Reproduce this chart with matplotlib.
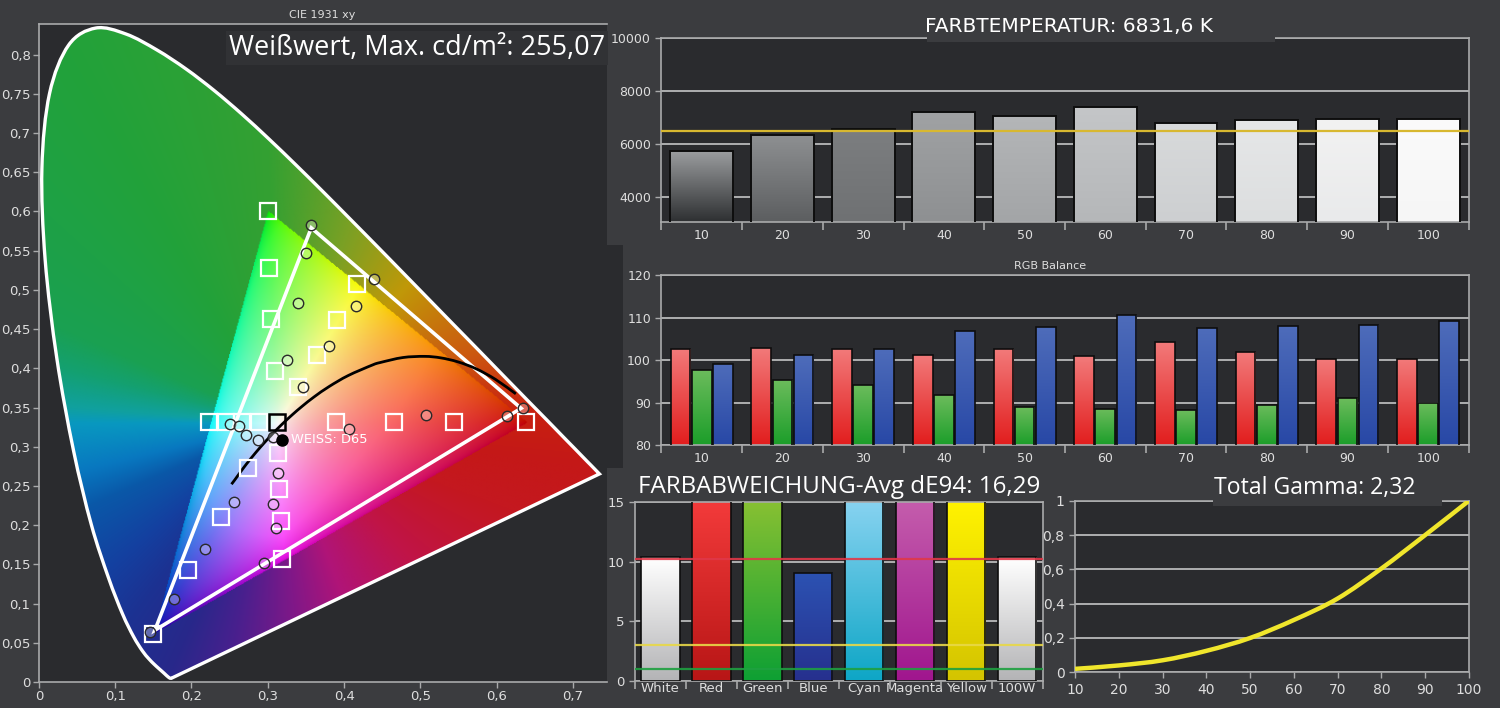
import numpy as np
import matplotlib
matplotlib.use('Agg')
import matplotlib.pyplot as plt
from matplotlib.path import Path
from matplotlib.patches import Polygon, Rectangle, PathPatch
from matplotlib.colors import to_rgb, rgb_to_hsv, hsv_to_rgb
from matplotlib import font_manager

# ---- CIE 1931 xy ----
locus_x = [0.1741, 0.1740, 0.1738, 0.1736, 0.1733, 0.1730, 0.1726, 0.1721, 0.1714, 0.1703,
           0.1689, 0.1669, 0.1644, 0.1611, 0.1566, 0.1510, 0.1440, 0.1355, 0.1241, 0.1096,
           0.0913, 0.0687, 0.0454, 0.0235, 0.0082, 0.0039, 0.0139, 0.0389, 0.0743, 0.1142,
           0.1547, 0.1929, 0.2296, 0.2658, 0.3016, 0.3373, 0.3731, 0.4087, 0.4441, 0.4788,
           0.5125, 0.5448, 0.5752, 0.6029, 0.6270, 0.6482, 0.6658, 0.6801, 0.6915, 0.7006,
           0.7079, 0.7140, 0.7190, 0.7230, 0.7260, 0.7300, 0.7320, 0.7334, 0.7347]
locus_y = [0.0050, 0.0050, 0.0049, 0.0049, 0.0048, 0.0048, 0.0048, 0.0048, 0.0051, 0.0058,
           0.0069, 0.0086, 0.0109, 0.0138, 0.0177, 0.0227, 0.0297, 0.0399, 0.0578, 0.0868,
           0.1327, 0.2007, 0.2950, 0.4127, 0.5384, 0.6548, 0.7502, 0.8120, 0.8338, 0.8262,
           0.8059, 0.7816, 0.7543, 0.7243, 0.6923, 0.6589, 0.6245, 0.5896, 0.5547, 0.5202,
           0.4866, 0.4544, 0.4242, 0.3965, 0.3725, 0.3514, 0.3340, 0.3197, 0.3083, 0.2993,
           0.2920, 0.2859, 0.2809, 0.2770, 0.2740, 0.2700, 0.2680, 0.2666, 0.2653]

ref_gamut_x = [0.64, 0.30, 0.15]
ref_gamut_y = [0.33, 0.60, 0.06]
meas_gamut_x = [0.632, 0.357, 0.152]
meas_gamut_y = [0.349, 0.579, 0.066]

planck_x = [0.6251, 0.5985, 0.5732, 0.5492, 0.5267, 0.5056, 0.4770, 0.4476, 0.4369, 0.4053,
            0.3805, 0.3608, 0.3451, 0.3325, 0.3221, 0.3135, 0.3064, 0.2952, 0.2869, 0.2807,
            0.2720, 0.2637, 0.2565, 0.2524]
planck_y = [0.3674, 0.3858, 0.3993, 0.4082, 0.4133, 0.4152, 0.4137, 0.4074, 0.4041, 0.3907,
            0.3768, 0.3636, 0.3516, 0.3411, 0.3318, 0.3237, 0.3166, 0.3048, 0.2956, 0.2884,
            0.2779, 0.2671, 0.2574, 0.2522]

target_x = [0.300, 0.301, 0.304, 0.417, 0.391, 0.309, 0.364, 0.339,
            0.223, 0.245, 0.266, 0.288, 0.390, 0.466, 0.544, 0.639,
            0.313, 0.274, 0.315, 0.239, 0.317, 0.196, 0.319, 0.150]
target_y = [0.601, 0.528, 0.463, 0.507, 0.462, 0.397, 0.417, 0.376,
            0.332, 0.332, 0.332, 0.332, 0.332, 0.332, 0.332, 0.332,
            0.292, 0.273, 0.246, 0.210, 0.205, 0.143, 0.157, 0.061]
white_target = (0.312, 0.332)

meas_x = [0.357, 0.350, 0.439, 0.339, 0.415, 0.380, 0.325, 0.346, 0.251, 0.262,
          0.272, 0.287, 0.307, 0.407, 0.508, 0.614, 0.635, 0.313, 0.256, 0.307,
          0.311, 0.218, 0.295, 0.177, 0.145]
meas_y = [0.583, 0.547, 0.514, 0.483, 0.480, 0.429, 0.410, 0.376, 0.329, 0.326,
          0.315, 0.309, 0.313, 0.322, 0.341, 0.339, 0.350, 0.267, 0.230, 0.227,
          0.196, 0.169, 0.152, 0.106, 0.064]
d65_point = (0.319, 0.309)

# ---- Farbtemperatur ----
levels = ['10', '20', '30', '40', '50', '60', '70', '80', '90', '100']
cct_values = [5725, 6338, 6575, 7214, 7064, 7402, 6800, 6891, 6951, 6951]
cct_target = 6500

# ---- RGB Balance ----
rgb_red = [102.6, 102.9, 102.6, 101.2, 102.6, 100.9, 104.3, 101.9, 100.3, 100.3]
rgb_green = [97.7, 95.3, 94.2, 91.7, 89.1, 88.5, 88.2, 89.5, 91.0, 89.9]
rgb_blue = [99.2, 101.1, 102.6, 106.9, 107.7, 110.6, 107.5, 108.0, 108.2, 109.2]

# ---- Farbabweichung ----
patches_names = ['White', 'Red', 'Green', 'Blue', 'Cyan', 'Magenta', 'Yellow', '100W']
de94_values = [10.4, 18.5, 24.0, 9.1, 19.5, 17.5, 21.0, 10.4]
de_limits = [10.2, 3.0, 1.0]

# ---- Gamma ----
gamma_x = [10, 20, 30, 40, 50, 60, 70, 80, 90, 100]
gamma_y = [0.02, 0.04, 0.07, 0.125, 0.2, 0.305, 0.43, 0.605, 0.8, 1.0]

W, H = 1500, 708
FIG_BG = '#3b3c3f'
AX_BG = '#2a2b2e'
SPINE = '#a9aaab'
GRID = '#c4c5c6'
TXT = '#dedede'

# Farbton-Stuetzstellen (Winkel um den Weisspunkt) fuer die Flaeche ausserhalb des Dreiecks
HUE_STOPS = [(-180, '#0898c0'), (-167, '#0878c0'), (-157, '#0a58a8'), (-140, '#1440a0'),
             (-128, '#1c3292'), (-114, '#28288a'), (-102, '#48208e'), (-85, '#801888'),
             (-69, '#b01478'), (-45, '#c01448'), (-20, '#c41820'), (-8, '#c41818'),
             (2, '#c82010'), (19, '#cc5810'), (46, '#c09808'), (69, '#7ca024'),
             (92, '#34a032'), (120, '#22a23a'), (157, '#1aa052'), (166, '#14a070'),
             (176, '#10a0a0'), (180, '#0898c0')]

fams = {f.name for f in font_manager.fontManager.ttflist}
SANS = 'Open Sans' if 'Open Sans' in fams else 'DejaVu Sans'
if 'Liberation Sans Narrow' in fams:
    NARROW, NARROW_FS = 'Liberation Sans Narrow', 17
else:
    NARROW, NARROW_FS = 'DejaVu Sans', 14.5


def px_axes(fig, left, top, right, bottom):
    return fig.add_axes([left / W, 1 - bottom / H, (right - left) / W, (bottom - top) / H])


def fig_rect(fig, left, top, right, bottom, color, z):
    fig.patches.append(Rectangle((left / W, 1 - bottom / H), (right - left) / W, (bottom - top) / H,
                                 transform=fig.transFigure, facecolor=color,
                                 edgecolor='none', zorder=z))


def smooth_path(xs, ys, closed=False):
    """Catmull-Rom Kurve als Bezier-Pfad (nur zum glatten Zeichnen)."""
    pts = np.column_stack([xs, ys])
    n = len(pts)
    verts, codes = [pts[0]], [Path.MOVETO]
    for i in range(n - 1):
        p0 = pts[i - 1] if i > 0 else pts[i]
        p1, p2 = pts[i], pts[i + 1]
        p3 = pts[i + 2] if i + 2 < n else pts[i + 1]
        verts += [p1 + (p2 - p0) / 6, p2 - (p3 - p1) / 6, p2]
        codes += [Path.CURVE4] * 3
    if closed:
        verts += [pts[0], pts[0]]
        codes += [Path.LINETO, Path.CLOSEPOLY]
    return Path(verts, codes)


def style(ax, fs=9):
    ax.set_facecolor(AX_BG)
    for s in ax.spines.values():
        s.set_color(SPINE)
        s.set_linewidth(1.2)
    ax.tick_params(colors=SPINE, labelcolor=TXT, labelsize=fs, length=4, width=1)
    ax.set_axisbelow(True)


def comma(v, nd=2):
    s = f"{v:.{nd}f}".rstrip('0').rstrip('.')
    return s.replace('.', ',')


def category_ticks(ax, n):
    ax.set_xlim(-0.5, n - 0.5)
    ax.set_xticks(np.arange(n))
    ax.set_xticks(np.arange(n + 1) - 0.5, minor=True)
    ax.tick_params(axis='x', which='major', length=0, pad=5)
    ax.tick_params(axis='x', which='minor', length=6, color=SPINE, width=1.2)


def gradient_bars(ax, bars, tops, bottoms, ylim):
    for bar, ct, cb in zip(bars, tops, bottoms):
        x0, w = bar.get_x(), bar.get_width()
        y0 = max(bar.get_y(), ylim[0])
        y1 = min(bar.get_y() + bar.get_height(), ylim[1])
        t = np.linspace(0, 1, 60)[:, None, None]
        c0, c1 = np.array(to_rgb(cb)), np.array(to_rgb(ct))
        img = c0 + (c1 - c0) * t
        im = ax.imshow(img, extent=[x0, x0 + w, y0, y1], origin='lower', aspect='auto',
                       interpolation='bilinear', zorder=2)
        im.set_clip_path(bar)


def chromaticity_image(gx, gy):
    GX, GY = np.meshgrid(gx, gy)
    Xc = GX / GY
    Zc = (1 - GX - GY) / GY
    lin = np.dstack([3.2406 * Xc - 1.5372 - 0.4986 * Zc,
                     -0.9689 * Xc + 1.8758 + 0.0415 * Zc,
                     0.0557 * Xc - 0.2040 + 1.0570 * Zc])
    lin = np.clip(lin, 0, None)
    lin = lin / lin.max(axis=2, keepdims=True)
    srgb = np.clip(np.where(lin <= 0.0031308, 12.92 * lin, 1.055 * lin ** (1 / 2.4) - 0.055), 0, 1)
    w = np.clip(0.5 * srgb[..., 0] + 0.8 * srgb[..., 1] + 0.2 * srgb[..., 2], 0, 1)
    hsv = rgb_to_hsv(srgb)
    hsv[..., 1] = hsv[..., 1] ** 0.8
    hsv[..., 2] = 0.5 + 0.48 * w
    inner = hsv_to_rgb(hsv)

    ang = np.degrees(np.arctan2(GY - 0.329, GX - 0.3127))
    sa = [a for a, _ in HUE_STOPS]
    sc = np.array([to_rgb(c) for _, c in HUE_STOPS])
    outer = np.dstack([np.interp(ang, sa, sc[:, k]) for k in range(3)])

    tri = Path(np.column_stack([ref_gamut_x, ref_gamut_y]))
    inside = tri.contains_points(np.column_stack([GX.ravel(), GY.ravel()])).reshape(GX.shape)
    return np.where(inside[..., None], inner, outer)


fig = plt.figure(figsize=(15, 7.08), dpi=100, facecolor=FIG_BG)
fig_rect(fig, 607, 245, 623, 468, AX_BG, -1)

# =============== CIE ===============
ax = px_axes(fig, 38.9, 24, 607, 682)
style(ax, 9.5)
ax.spines['right'].set_visible(False)

gx = np.linspace(0, 0.75, 600)
gy = np.linspace(0.002, 0.84, 672)
locus_patch = PathPatch(smooth_path(locus_x, locus_y, closed=True), facecolor='none',
                        edgecolor='white', lw=2.4, zorder=4)
ax.add_patch(locus_patch)
im = ax.imshow(chromaticity_image(gx, gy), extent=[0, 0.75, 0.002, 0.84], origin='lower',
               aspect='auto', interpolation='bilinear', zorder=1)
im.set_clip_path(locus_patch)
ax.set_xlim(0, 0.7446)
ax.set_ylim(0, 0.839)

ax.add_patch(Polygon(np.column_stack([meas_gamut_x, meas_gamut_y]), closed=True,
                     facecolor='none', edgecolor='white', lw=2.6, zorder=5))
ax.add_patch(PathPatch(smooth_path(planck_x, planck_y), facecolor='none', edgecolor='black',
                       lw=2, zorder=6))
ax.plot(target_x, target_y, ls='none', marker='s', ms=12, mfc='none', mec='white',
        mew=1.6, zorder=7)
ax.plot(*white_target, marker='s', ms=12, mfc='none', mec='black', mew=1.8, zorder=7)
ax.plot(meas_x, meas_y, ls='none', marker='o', ms=7.5, mfc=(1, 1, 1, 0.3), mec='#2a2a2a',
        mew=1, zorder=8)
ax.plot(*d65_point, marker='o', ms=8, color='black', zorder=9)
ax.text(d65_point[0] + 0.012, d65_point[1], 'WEISS: D65', color='white', fontsize=9.4,
        va='center', zorder=9)

ax.set_xticks(np.arange(0, 0.71, 0.1))
ax.set_xticklabels([comma(v, 1) for v in np.arange(0, 0.71, 0.1)])
yt = np.arange(0, 0.801, 0.05)
ax.set_yticks(yt)
ax.set_yticklabels([comma(v) for v in yt])
ax.tick_params(axis='both', pad=2)
ax.text(0.997, 0.9635, 'Weißwert, Max. cd/m²: 255,07', transform=ax.transAxes, ha='right',
        va='center', color='white', fontsize=19.5, family=SANS, zorder=10,
        bbox=dict(facecolor='#313235', edgecolor='none', pad=2))
fig.text(322 / W, 1 - 15 / H, 'CIE 1931 xy', ha='center', va='center', color=TXT, fontsize=8)

# =============== Farbtemperatur ===============
ax = px_axes(fig, 661.4, 37.7, 1468.5, 222.3)
style(ax)
x = np.arange(len(levels))
greys = ['#2e3032', '#5c5e60', '#6f7173', '#8e9092', '#a3a5a7', '#b5b7b9', '#cdcfd1',
         '#dcdedf', '#e9eaeb', '#f6f6f6']
tops = ['#9a9c9e', '#8e9092', '#7c7e80', '#a0a2a4', '#b4b6b8', '#c4c6c8', '#d8dadb',
        '#e6e7e8', '#f2f2f2', '#fbfbfb']
ylim = (3060, 10000)
bars = ax.bar(x, cct_values, width=0.78, facecolor='none', edgecolor='#0e0e0e', lw=1.4, zorder=3)
gradient_bars(ax, bars, tops, greys, ylim)
ax.axhline(cct_target, color='#d8b830', lw=1.6, zorder=4)
ax.set_ylim(*ylim)
ax.set_yticks([4000, 6000, 8000, 10000])
ax.yaxis.grid(True, color=GRID, lw=1.2)
category_ticks(ax, len(levels))
ax.set_xticklabels(levels)
fig_rect(fig, 927, 30, 1275, 42, FIG_BG, 2)
fig.text(1069 / W, 1 - 26 / H, 'FARBTEMPERATUR: 6831,6 K', ha='center', va='center',
         color='white', fontsize=NARROW_FS, family=NARROW, zorder=3)

# =============== RGB Balance ===============
ax = px_axes(fig, 661.4, 275, 1468.5, 445.3)
style(ax)
ylim = (80, 120)
bw = 0.245
for vals, off, ct, cb in [(rgb_red, -0.262, '#f27a7a', '#e21e1e'),
                          (rgb_green, 0.0, '#6cbc5c', '#1c9e2a'),
                          (rgb_blue, 0.262, '#4e6cba', '#2848a6')]:
    bars = ax.bar(x + off, vals, width=bw, facecolor='none', edgecolor='#0e0e0e', lw=1.2, zorder=3)
    gradient_bars(ax, bars, [ct] * len(vals), [cb] * len(vals), ylim)
ax.set_ylim(*ylim)
ax.set_yticks([80, 90, 100, 110, 120])
ax.yaxis.grid(True, color=GRID, lw=1.2)
category_ticks(ax, len(levels))
ax.set_xticklabels(levels)
fig.text(1050 / W, 1 - 266 / H, 'RGB Balance', ha='center', va='center', color=TXT, fontsize=8)

# =============== Farbabweichung ===============
ax = px_axes(fig, 635, 502.3, 1042.7, 681)
style(ax, 9.5)
ylim = (0, 15)
xp = np.arange(len(patches_names))
tops = ['#ffffff', '#f23a3a', '#86c032', '#2c52b2', '#86d2f0', '#c45cac', '#fff200', '#ffffff']
bots = ['#b4b4b6', '#b81616', '#0ea034', '#26308e', '#0ea6c6', '#a0168e', '#d4c400', '#b4b4b6']
bars = ax.bar(xp, de94_values, width=0.75, facecolor='none', edgecolor='#0e0e0e', lw=1.2, zorder=3)
gradient_bars(ax, bars, tops, bots, ylim)
for v, c in zip(de_limits, ['#e03848', '#e8d848', '#1ea040']):
    ax.axhline(v, color=c, lw=1.6, alpha=0.9, zorder=4)
ax.set_ylim(*ylim)
ax.set_yticks([0, 5, 10, 15])
ax.yaxis.grid(True, color=GRID, lw=1.2)
category_ticks(ax, len(patches_names))
ax.set_xticklabels(patches_names)
ax.tick_params(axis='x', which='major', pad=1)
fig.text(638 / W, 1 - 487 / H, 'FARBABWEICHUNG-Avg dE94: 16,29', ha='left', va='center',
         color='white', fontsize=17.4, family=SANS)

# =============== Gamma ===============
ax = px_axes(fig, 1075, 500.7, 1469, 672.3)
style(ax, 10)
ax.add_patch(PathPatch(smooth_path(gamma_x, gamma_y), facecolor='none', edgecolor='#f0e62c',
                       lw=3.2, zorder=3))
ax.set_xlim(10, 100)
ax.set_ylim(0, 1)
ax.set_xticks(gamma_x)
ax.set_yticks([0, 0.2, 0.4, 0.6, 0.8, 1])
ax.set_yticklabels([comma(v, 1) for v in [0, 0.2, 0.4, 0.6, 0.8, 1]])
ax.yaxis.grid(True, color=GRID, lw=1.2)
fig_rect(fig, 1213, 494, 1442, 506, FIG_BG, 2)
fig.text(1315 / W, 1 - 488 / H, 'Total Gamma: 2,32', ha='center', va='center',
         color='white', fontsize=16.6, family=SANS, zorder=3)

fig.savefig('out.png', dpi=100, facecolor=FIG_BG)
